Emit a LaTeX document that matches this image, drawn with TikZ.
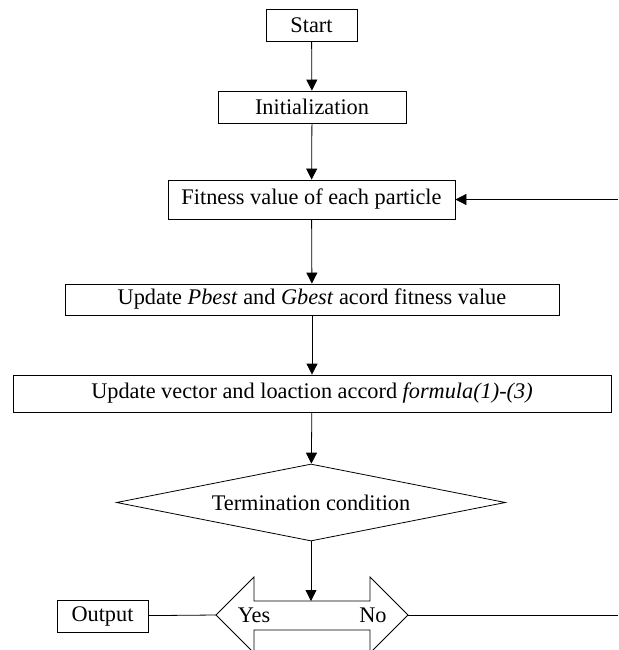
\documentclass[tikz,border=0pt]{standalone}
\usepackage{fontspec}
\setmainfont{Liberation Serif}
\usetikzlibrary{arrows.meta,shapes.geometric}

\begin{document}
\begin{tikzpicture}[x=1pt,y=-1pt,line width=0.8pt,
  >={Triangle[length=11pt,width=11pt]},
  every node/.style={font=\fontsize{22.3}{26}\selectfont},
  box/.style={draw,inner sep=0pt,minimum height=32pt}]
\useasboundingbox (0,0) rectangle (618,650);

\node[box,minimum width=91pt] (start) at (311.5,25) {Start};
\node[box,minimum width=188pt] (init) at (312,107) {Initialization};
\node[box,minimum width=287pt,minimum height=39pt] (fit) at (311.5,199.5) {Fitness value of each particle};
\node[box,minimum width=494pt,minimum height=31pt] (best) at (312,299.5) {Update \textit{Pbest} and \textit{Gbest} acord fitness value};
\node[box,minimum width=598pt,minimum height=37pt] (upd) at (312,393.5) {Update vector and loaction accord \textit{formula(1)-(3)}};
\node[draw,diamond,aspect=5,inner sep=0pt,minimum width=389pt,minimum height=77pt] (cond) at (311,502.5) {Termination condition};

%yes/no double arrow
\draw (216,615) -- (254,577) -- (254,601) -- (370,601) -- (370,577) -- (408,615) -- (370,653) -- (370,630) -- (254,630) -- (254,653) -- cycle;
\coordinate (yes) at (216,615);
\coordinate (no) at (408,615);
\coordinate (shaft) at (311,601);
\node (yeslabel) at (254,615) {Yes};
\node (nolabel) at (373,615) {No};
\node[box,minimum width=91pt] (out) at (102.5,616) {Output};

%loop ends at the right edge
\coordinate (backin) at (618,199.5);
\coordinate (exit) at (618,615);

\draw[->] (start) -- (init);
\draw[->] (init) -- (fit);
\draw[->] (fit) -- (best);
\draw[->] (best) -- (upd);
\draw[->] (upd) -- (cond);
\draw[->] (cond) -- (shaft);
\draw[->] (backin) -- (fit);
\draw (out) -- (yes);
\draw (no) -- (exit);
\end{tikzpicture}
\end{document}
